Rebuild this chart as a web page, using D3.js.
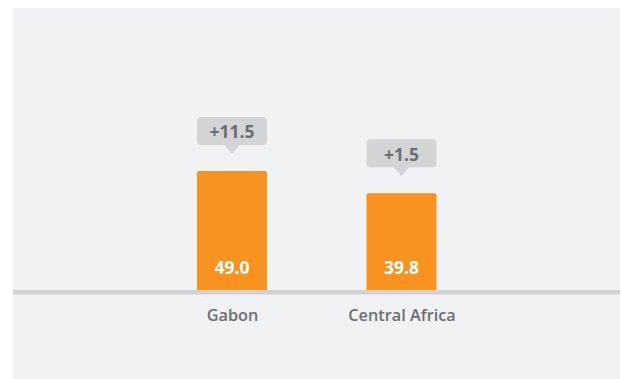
<!DOCTYPE html>
<html><head><meta charset="utf-8">
<script src="https://cdn.jsdelivr.net/npm/d3@7"></script>
<style>
html,body{margin:0;padding:0;background:#fff;}
svg{display:block;}
text{font-family:"Open Sans",sans-serif;}
</style></head>
<body>
<svg id="c" width="621" height="379"></svg>
<script>
const categories = ["Gabon", "Central Africa"];
const values = [49.0, 39.8];
const changes = ["+11.5", "+1.5"];

const svg = d3.select("#c");
const W = 621, H = 379;

svg.append("rect").attr("x", 13).attr("y", 8).attr("width", 607).attr("height", H - 8).attr("fill", "#f1f2f4");

const x = d3.scalePoint().domain(categories).range([232, 401.5]);
const y = d3.scaleLinear().domain([0, 60]).range([290, 144.2]);
const bw = 70;

// bars
const g = svg.append("g");
g.selectAll("rect.bar").data(values).join("rect")
  .attr("class", "bar")
  .attr("x", (d, i) => x(categories[i]) - bw / 2)
  .attr("y", d => y(d))
  .attr("width", bw)
  .attr("height", d => y(0) - y(d) + 2)
  .attr("rx", 2)
  .attr("fill", "#f7931e");

// value labels
g.selectAll("text.val").data(values).join("text")
  .attr("class", "val")
  .attr("x", (d, i) => x(categories[i]))
  .attr("y", 273.5)
  .attr("text-anchor", "middle")
  .attr("fill", "#ffffff")
  .attr("font-size", 17.5)
  .attr("font-weight", 700)
  .text(d => d.toFixed(1));

// callouts
values.forEach((v, i) => {
  const cx = x(categories[i]);
  const top = y(v);
  const bBottom = top - 26, bTop = bBottom - 28;
  const cg = svg.append("g");
  cg.append("rect").attr("x", cx - bw / 2).attr("y", bTop).attr("width", bw).attr("height", 28)
    .attr("rx", 4).attr("fill", "#d3d4d6");
  cg.append("path").attr("d", `M${cx - 8},${bBottom - 0.5} L${cx},${bBottom + 9} L${cx + 8},${bBottom - 0.5} Z`)
    .attr("fill", "#d3d4d6");
  cg.append("text").attr("x", cx).attr("y", bTop + 21.5)
    .attr("text-anchor", "middle").attr("fill", "#6d6e71")
    .attr("font-size", 17.5).attr("font-weight", 700).text(changes[i]);
});

// axis line
svg.append("rect").attr("x", 13).attr("y", 290).attr("width", 607).attr("height", 4.5).attr("fill", "#d1d2d4");

// category labels
const ax = d3.axisBottom(x).tickSize(0).tickPadding(0);
const axg = svg.append("g").attr("transform", "translate(0,309)").call(ax);
axg.select(".domain").remove();
axg.selectAll("text")
  .attr("font-family", "'Open Sans',sans-serif")
  .attr("font-size", 16.3)
  .attr("font-weight", 600)
  .attr("fill", "#6d6e71");
</script>
</body></html>
